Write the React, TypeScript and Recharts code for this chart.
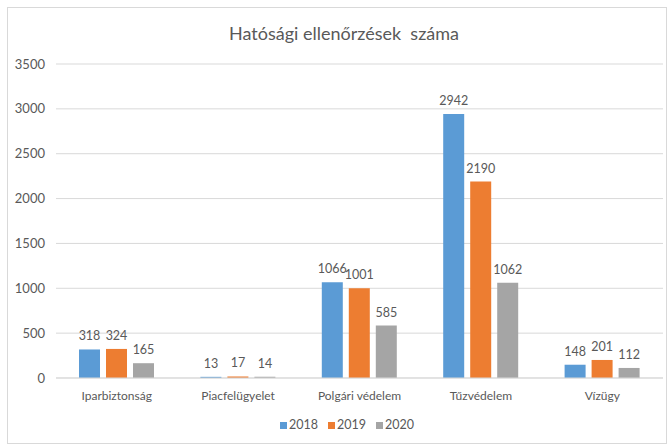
import React from "react";
import { BarChart, Bar, XAxis, YAxis, CartesianGrid, LabelList } from "recharts";

const categories = ["Iparbiztonság", "Piacfelügyelet", "Polgári védelem", "Tűzvédelem", "Vízügy"];
const values2018 = [318, 13, 1066, 2942, 148];
const values2019 = [324, 17, 1001, 2190, 201];
const values2020 = [165, 14, 585, 1062, 112];
const yTicks = [0, 500, 1000, 1500, 2000, 2500, 3000, 3500];
const seriesNames = ["2018", "2019", "2020"];
const title = "Hatósági ellenőrzések  száma";

const colors = ["#5B9BD5", "#ED7D31", "#A5A5A5"];
const FONT = "Lato, 'Open Sans', sans-serif";
const TEXT = "#595959";

const data = categories.map((c, i) => ({
  name: c,
  "2018": values2018[i],
  "2019": values2019[i],
  "2020": values2020[i],
}));

export default function App() {
  return (
    <div style={{ position: "absolute", left: 7, top: 7, width: 660, height: 437, boxSizing: "border-box", border: "1px solid #D9D9D9", background: "#fff" }}>
      <div style={{ position: "absolute", left: 0, width: 672, top: 14, textAlign: "center", fontFamily: FONT, fontSize: 18, color: TEXT, whiteSpace: "pre" }}>
        {title}
      </div>
      <BarChart
        width={658}
        height={435}
        data={data}
        margin={{ top: 56, right: 3, left: 0, bottom: 35 }}
        barCategoryGap={23}
        barGap={6}
      >
        <CartesianGrid vertical={false} stroke="#D9D9D9" />
        <XAxis
          dataKey="name"
          height={30}
          tickLine={false}
          tickSize={0}
          tickMargin={13}
          axisLine={{ stroke: "#D9D9D9" }}
          tick={{ fill: TEXT, fontSize: 12, fontFamily: FONT }}
          interval={0}
        />
        <YAxis
          width={48}
          domain={[0, 3500]}
          ticks={yTicks}
          axisLine={false}
          tickLine={false}
          tickSize={0}
          tickMargin={11}
          tick={{ fill: TEXT, fontSize: 13, fontFamily: FONT }}
        />
        {seriesNames.map((s, i) => (
          <Bar key={s} dataKey={s} fill={colors[i]} isAnimationActive={false}>
            <LabelList dataKey={s} position="top" offset={9} fill={TEXT} fontSize={12.5} fontFamily={FONT} />
          </Bar>
        ))}
      </BarChart>
      <div style={{ position: "absolute", top: 408, left: 10, width: 658, display: "flex", justifyContent: "center", alignItems: "center", fontFamily: FONT, fontSize: 12.5, color: TEXT, lineHeight: "18px" }}>
        {seriesNames.map((s, i) => (
          <div key={s} style={{ display: "flex", alignItems: "center", marginRight: i < 2 ? 10 : 0 }}>
            <span style={{ display: "inline-block", width: 7, height: 7, background: colors[i], marginRight: 2 }} />
            <span>{s}</span>
          </div>
        ))}
      </div>
    </div>
  );
}
